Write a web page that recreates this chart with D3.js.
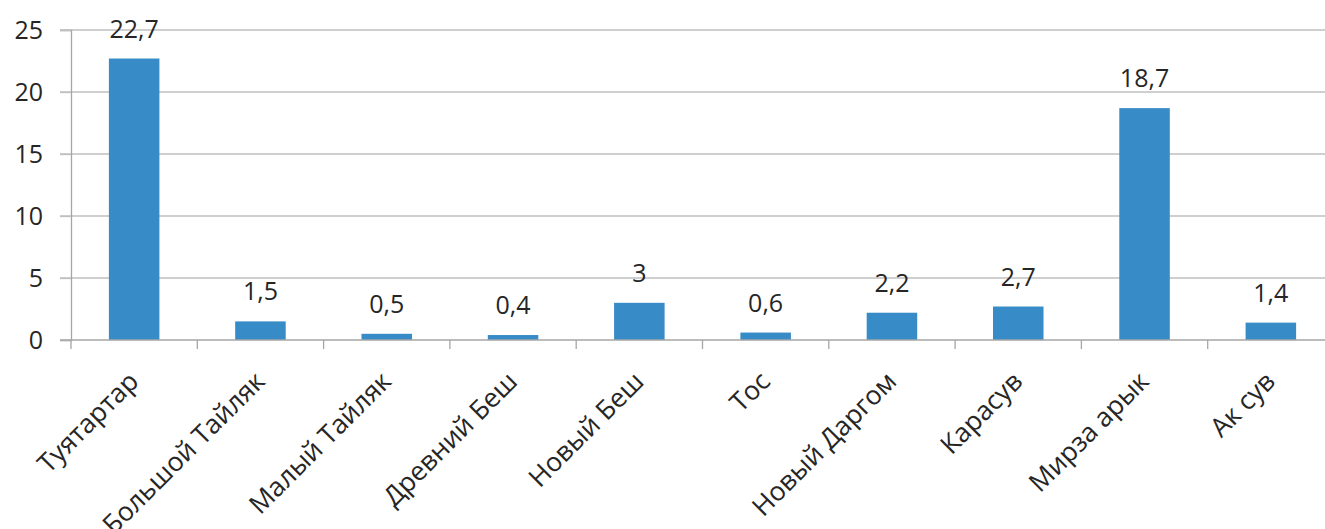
<!DOCTYPE html>
<html>
<head>
<meta charset="utf-8">
<script src="https://cdn.jsdelivr.net/npm/d3@7"></script>
<style>
  html, body { margin: 0; padding: 0; background: #fff; }
  svg { display: block; }
  text { font-family: "Open Sans", sans-serif; fill: #262626; }
</style>
</head>
<body>
<svg id="chart" width="1325" height="529"></svg>
<script>
const categories = ["Туятартар", "Большой Тайляк", "Малый Тайляк", "Древний Беш", "Новый Беш", "Тос", "Новый Даргом", "Карасув", "Мирза арык", "Ак сув"];
const values = [22.7, 1.5, 0.5, 0.4, 3, 0.6, 2.2, 2.7, 18.7, 1.4];
const valueLabels = ["22,7", "1,5", "0,5", "0,4", "3", "0,6", "2,2", "2,7", "18,7", "1,4"];
const yTicks = [0, 5, 10, 15, 20, 25];

const svg = d3.select("#chart");
const mLeft = 71, mTop = 30, mBottom = 340, mRight = 1334;

const x = d3.scaleBand().domain(categories).range([mLeft, mRight]).paddingInner(0.6).paddingOuter(0.3);
const y = d3.scaleLinear().domain([0, 25]).range([mBottom, mTop]);

// gridlines
svg.append("g").selectAll("line").data(yTicks.filter(d => d > 0)).join("line")
  .attr("x1", mLeft - 11).attr("x2", 1325)
  .attr("y1", d => y(d)).attr("y2", d => y(d))
  .attr("stroke", "#bfbfbf").attr("stroke-width", 1.3);

// y axis
const yAxis = d3.axisLeft(y).tickValues(yTicks).tickSize(11).tickPadding(17).tickFormat(d => d);
const gy = svg.append("g").attr("transform", `translate(${mLeft},0)`).call(yAxis);
gy.select(".domain").attr("stroke", "#a6a6a6").attr("stroke-width", 1.3);
gy.selectAll(".tick line").attr("stroke", "#bfbfbf").attr("stroke-width", 1.3);
gy.selectAll(".tick text").attr("font-size", 25).attr("font-family", "Open Sans").attr("fill", "#262626");

// bars
svg.append("g").selectAll("rect").data(values).join("rect")
  .attr("x", (d, i) => x(categories[i]))
  .attr("width", x.bandwidth())
  .attr("y", d => y(d))
  .attr("height", d => y(0) - y(d))
  .attr("fill", "#378bc7");

// x axis line and ticks
const step = x.step();
const boundaries = d3.range(categories.length + 1).map(i => mLeft + i * step);
svg.append("line").attr("x1", mLeft - 11).attr("x2", 1325).attr("y1", mBottom).attr("y2", mBottom)
  .attr("stroke", "#a6a6a6").attr("stroke-width", 1.3);
svg.append("g").selectAll("line").data(boundaries).join("line")
  .attr("x1", d => d).attr("x2", d => d).attr("y1", mBottom).attr("y2", mBottom + 9)
  .attr("stroke", "#a6a6a6").attr("stroke-width", 1.3);

// value labels
svg.append("g").selectAll("text").data(values).join("text")
  .attr("x", (d, i) => x(categories[i]) + x.bandwidth() / 2)
  .attr("y", d => y(d) - 21)
  .attr("text-anchor", "middle")
  .attr("font-size", 25)
  .text((d, i) => valueLabels[i]);

// category labels
svg.append("g").selectAll("text").data(categories).join("text")
  .attr("transform", d => `translate(${x(d) + x.bandwidth() / 2 + 6},383) rotate(-45)`)
  .attr("text-anchor", "end")
  .attr("font-size", 26.5)
  .text(d => d);
</script>
</body>
</html>
